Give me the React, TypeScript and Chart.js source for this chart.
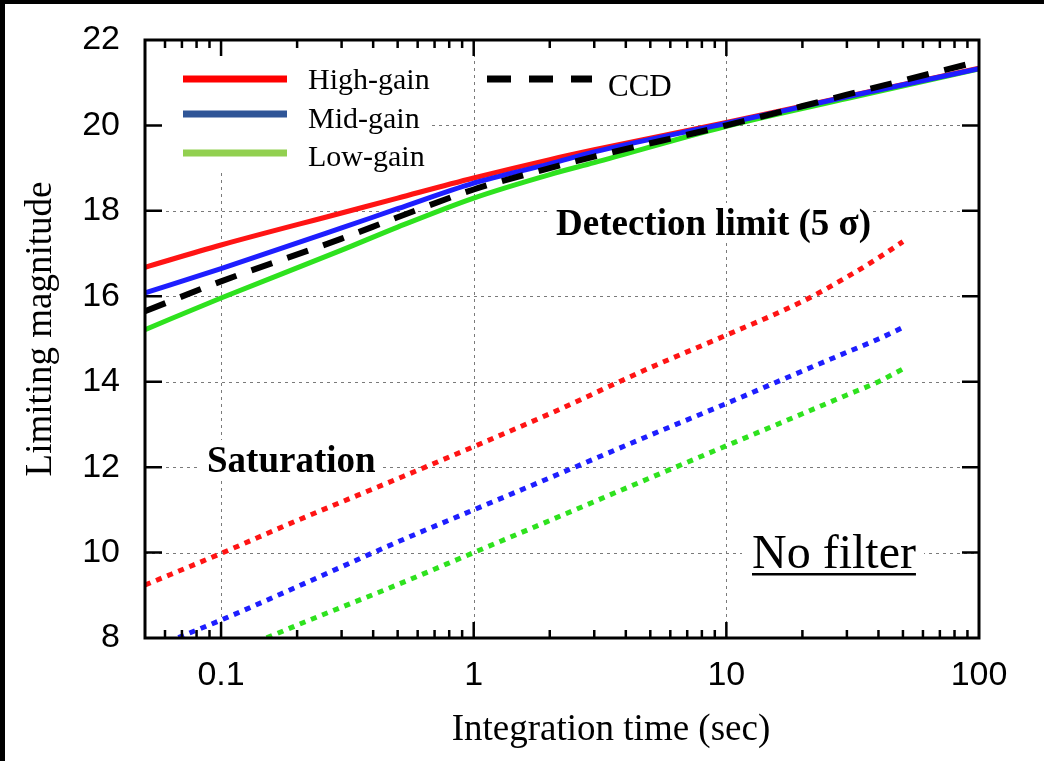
import React, { useEffect, useRef } from "react";
import { Chart, registerables } from "chart.js";

Chart.register(...registerables);

// ---- data ----
const timesSolid = [0.05, 0.1, 0.3, 0.5, 1, 2, 3, 10, 30, 100];
const highGainLimit = [16.68, 17.2, 17.95, 18.3, 18.77, 19.2, 19.43, 20.07, 20.68, 21.34];
const midGainLimit = [16.08, 16.65, 17.6, 18.05, 18.65, 19.1, 19.38, 20.05, 20.67, 21.33];
const lowGainLimit = [15.22, 15.96, 17.08, 17.62, 18.3, 18.85, 19.13, 19.98, 20.63, 21.32];
const ccdLimit = [15.65, 16.35, 17.35, 17.85, 18.5, 19.0, 19.27, 20.0, 20.72, 21.5];

const timesSat = [0.05, 0.1, 0.2, 0.5, 1, 2, 5, 10, 20, 30, 40, 50];
const highGainSat = [9.24, 9.98, 10.75, 11.73, 12.48, 13.25, 14.33, 15.09, 15.88, 16.45, 16.9, 17.28];
const midGainSat = [7.7, 8.42, 9.2, 10.25, 11.0, 11.75, 12.75, 13.49, 14.25, 14.69, 15.0, 15.27];
const lowGainSat = [6.8, 7.55, 8.3, 9.25, 10.0, 10.75, 11.75, 12.5, 13.25, 13.69, 14.0, 14.3];

const xMajorTicks = [0.1, 1, 10, 100];
const xMinorTicks = [0.06, 0.07, 0.08, 0.09, 0.2, 0.3, 0.4, 0.5, 0.6, 0.7, 0.8, 0.9, 2, 3, 4, 5, 6, 7, 8, 9, 20, 30, 40, 50, 60, 70, 80, 90];
const yTicks = [8, 10, 12, 14, 16, 18, 20, 22];

const legendNames = ["High-gain", "Mid-gain", "Low-gain"];
const legendColors = ["#ff0000", "#2f5597", "#92d050"];

const RED = "#ff1414";
const BLUE = "#1e1eff";
const GREEN = "#2ee21e";

const SERIF = "'Liberation Serif', 'Times New Roman', serif";
const SANS = "'Liberation Sans', Arial, Helvetica, sans-serif";

const pts = (xs: number[], ys: number[]) => xs.map((x, i) => ({ x, y: ys[i] }));

const decorPlugin = {
  id: "decor",
  beforeDatasetsDraw(chart: any) {
    const { ctx, chartArea: a, scales } = chart;
    const xs = scales.x;
    const ys = scales.y;
    ctx.save();
    ctx.strokeStyle = "#7a7a7a";
    ctx.lineWidth = 1;
    ctx.setLineDash([3, 4]);
    for (const v of xMajorTicks) {
      const px = Math.round(xs.getPixelForValue(v)) + 0.5;
      if (px <= a.left + 2 || px >= a.right - 2) continue;
      ctx.beginPath();
      ctx.moveTo(px, a.top);
      ctx.lineTo(px, a.bottom);
      ctx.stroke();
    }
    for (const v of yTicks) {
      const py = Math.round(ys.getPixelForValue(v)) + 0.5;
      if (py <= a.top + 2 || py >= a.bottom - 2) continue;
      ctx.beginPath();
      ctx.moveTo(a.left, py);
      ctx.lineTo(a.right, py);
      ctx.stroke();
    }
    ctx.setLineDash([]);
    // white backgrounds behind legend and labels
    ctx.fillStyle = "#ffffff";
    ctx.fillRect(163, 42, 269, 130);
    ctx.fillRect(550, 203, 322, 40);
    ctx.fillRect(200, 440, 182, 40);
    ctx.fillRect(742, 528, 182, 52);
    ctx.restore();
  },
  afterDraw(chart: any) {
    const { ctx, chartArea: a, scales } = chart;
    const xs = scales.x;
    const ys = scales.y;
    ctx.save();
    // tick marks (inward, all four sides)
    ctx.strokeStyle = "#000";
    ctx.lineWidth = 2.5;
    const drawX = (v: number, len: number) => {
      const px = xs.getPixelForValue(v);
      if (px <= a.left + 1 || px >= a.right - 1) return;
      ctx.beginPath();
      ctx.moveTo(px, a.bottom);
      ctx.lineTo(px, a.bottom - len);
      ctx.moveTo(px, a.top);
      ctx.lineTo(px, a.top + len);
      ctx.stroke();
    };
    xMajorTicks.forEach((v) => drawX(v, 16));
    xMinorTicks.forEach((v) => drawX(v, 8));
    for (const v of yTicks) {
      const py = ys.getPixelForValue(v);
      if (py <= a.top + 1 || py >= a.bottom - 1) continue;
      ctx.beginPath();
      ctx.moveTo(a.left, py);
      ctx.lineTo(a.left + 17, py);
      ctx.moveTo(a.right, py);
      ctx.lineTo(a.right - 17, py);
      ctx.stroke();
    }
    // frame
    ctx.lineWidth = 3;
    ctx.strokeRect(a.left, a.top, a.right - a.left, a.bottom - a.top);

    // legend
    ctx.lineWidth = 7;
    ctx.lineCap = "butt";
    const ly = [79, 114, 153];
    const ty = [89, 128, 166];
    ctx.font = `30px ${SERIF}`;
    ctx.textBaseline = "alphabetic";
    ctx.textAlign = "left";
    for (let i = 0; i < 3; i++) {
      ctx.strokeStyle = legendColors[i];
      ctx.beginPath();
      ctx.moveTo(183, ly[i]);
      ctx.lineTo(287, ly[i]);
      ctx.stroke();
      ctx.fillStyle = "#000";
      ctx.fillText(legendNames[i], 308, ty[i]);
    }
    ctx.strokeStyle = "#000";
    ctx.setLineDash([24, 18]);
    ctx.beginPath();
    ctx.moveTo(487, 79);
    ctx.lineTo(592, 79);
    ctx.stroke();
    ctx.setLineDash([]);
    ctx.font = `31px ${SERIF}`;
    ctx.fillText("CCD", 608, 96);

    // annotations
    ctx.font = `bold 37px ${SERIF}`;
    ctx.fillText("Detection limit (5 \u03c3)", 556, 235);
    ctx.fillText("Saturation", 207, 472);
    ctx.font = `48px ${SERIF}`;
    ctx.fillText("No filter", 752, 568);
    const w = ctx.measureText("No filter").width;
    ctx.fillRect(752, 573, w, 2.5);

    // axis titles
    ctx.font = `37px ${SERIF}`;
    ctx.textAlign = "center";
    ctx.fillText("Integration time (sec)", 611, 740);
    ctx.save();
    ctx.translate(51, 329);
    ctx.rotate(-Math.PI / 2);
    ctx.fillText("Limiting magnitude", 0, 0);
    ctx.restore();
    ctx.restore();
  },
};

export default function App() {
  const ref = useRef<HTMLCanvasElement | null>(null);

  useEffect(() => {
    if (!ref.current) return;
    const solid = (label: string, ys: number[], color: string, order: number) => ({
      label,
      data: pts(timesSolid, ys),
      borderColor: color,
      backgroundColor: color,
      borderWidth: 5,
      pointRadius: 0,
      cubicInterpolationMode: "monotone" as const,
      fill: false,
      order,
    });
    const dotted = (label: string, ys: number[], color: string, order: number) => ({
      label,
      data: pts(timesSat, ys),
      borderColor: color,
      backgroundColor: color,
      borderWidth: 5,
      borderDash: [6, 6],
      pointRadius: 0,
      cubicInterpolationMode: "monotone" as const,
      fill: false,
      order,
    });
    const chart = new Chart(ref.current, {
      type: "line",
      data: {
        datasets: [
          { ...solid("CCD", ccdLimit, "#000000", 0), borderWidth: 6, borderDash: [22, 16] },
          solid("Mid-gain", midGainLimit, BLUE, 1),
          solid("High-gain", highGainLimit, RED, 2),
          solid("Low-gain", lowGainLimit, GREEN, 3),
          dotted("High-gain saturation", highGainSat, RED, 4),
          dotted("Mid-gain saturation", midGainSat, BLUE, 5),
          dotted("Low-gain saturation", lowGainSat, GREEN, 6),
        ],
      },
      options: {
        responsive: false,
        maintainAspectRatio: false,
        devicePixelRatio: 1,
        animation: false,
        layout: { padding: { left: 0, top: 40, right: 65, bottom: 0 } },
        plugins: {
          legend: { display: false },
          tooltip: { enabled: false },
          title: { display: false },
        },
        scales: {
          x: {
            type: "logarithmic",
            min: 0.05,
            max: 100,
            position: "bottom",
            grid: { display: false, drawTicks: false },
            border: { display: false },
            afterBuildTicks: (scale: any) => {
              scale.ticks = xMajorTicks.map((value) => ({ value }));
            },
            afterFit: (scale: any) => {
              scale.height = 123;
              scale.paddingLeft = 0;
              scale.paddingRight = 0;
            },
            ticks: {
              autoSkip: false,
              maxRotation: 0,
              minRotation: 0,
              padding: 17,
              color: "#000",
              font: { family: SANS, size: 34 },
              callback: (v: any) => String(v),
            },
          },
          y: {
            type: "linear",
            min: 8,
            max: 22,
            grid: { display: false, drawTicks: false },
            border: { display: false },
            afterBuildTicks: (scale: any) => {
              scale.ticks = yTicks.map((value) => ({ value }));
            },
            afterFit: (scale: any) => {
              scale.width = 145;
              scale.paddingTop = 0;
              scale.paddingBottom = 0;
            },
            ticks: {
              padding: 25,
              color: "#000",
              font: { family: SANS, size: 34 },
              callback: (v: any) => String(v),
            },
          },
        },
      } as any,
      plugins: [decorPlugin],
    });
    return () => chart.destroy();
  }, []);

  return (
    <div style={{ position: "absolute", left: 0, top: 0, width: 1044, height: 761, background: "#fff", overflow: "hidden" }}>
      <canvas ref={ref} width={1044} height={761} style={{ display: "block", width: 1044, height: 761 }} />
      <div style={{ position: "absolute", left: 0, top: 0, width: 1044, height: 4, background: "#000" }} />
      <div style={{ position: "absolute", left: 0, top: 0, width: 5, height: 761, background: "#000" }} />
    </div>
  );
}
